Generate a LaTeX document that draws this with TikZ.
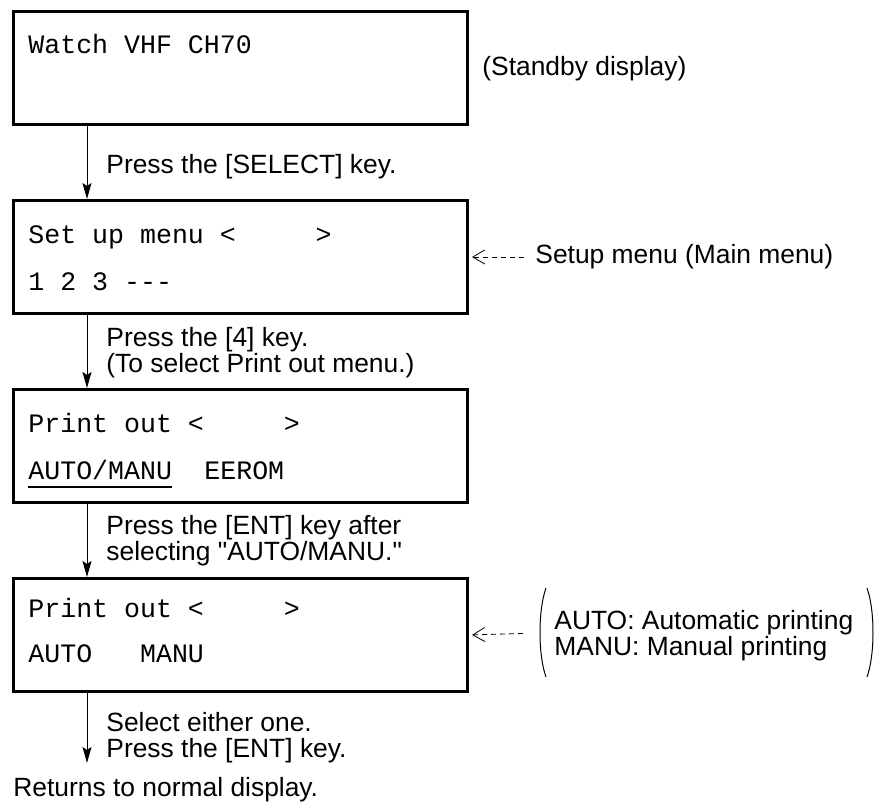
\documentclass[tikz,border=0pt]{standalone}
\usepackage{fontspec}
\setmainfont{Liberation Sans}
\setmonofont{Liberation Mono}
\usetikzlibrary{arrows.meta}

\begin{document}
\begin{tikzpicture}[x=0.5pt, y=-0.5pt]

    % rozměry displeje
    \def\W{227pt}
    \def\H{56.5pt}

    % styly
    \tikzset{
        lcd/.style={draw=black, line width=1.5pt, minimum width=\W, minimum height=\H, inner sep=0pt, anchor=north west},
        lcdtext/.style={font=\ttfamily\fontsize{13.3}{13.3}\selectfont, inner sep=0pt, anchor=base west},
        note/.style={font=\fontsize{13.2}{13}\selectfont, inner sep=0pt, anchor=base west, align=left},
        flow/.style={line width=0.5pt, -{Stealth[length=8pt, width=4.5pt, inset=1.5pt]}},
        pointer/.style={line width=0.4pt, dash pattern=on 2.5pt off 2pt, -{Straight Barb[length=6pt, width=7pt]}, shorten >=1.5pt},
        paren/.style={line width=0.5pt}
    }

    \useasboundingbox (0,0) rectangle (880,805);

    % displeje
    \node[lcd] (disp1) at (12,10) {};
    \node[lcd] (disp2) at (12,199) {};
    \node[lcd] (disp3) at (12,388) {};
    \node[lcd] (disp4) at (12,577) {};

    % texty na displejích
    \node[lcdtext] (watch) at (28,53) {Watch VHF CH70};
    \node[lcdtext] (setupLine) at (28,243) {Set up menu <~~~~~>};
    \node[lcdtext] (numLine) at (28,290) {1 2 3 {-}{-}{-}};
    \node[lcdtext] (printLine1) at (28,432) {Print out <~~~~~>};
    \node[lcdtext] (autoManu) at (28,479) {AUTO/MANU};
    \node[lcdtext] (eerom) at (204,479) {EEROM};
    \draw[line width=0.8pt] ([yshift=-4pt]autoManu.base west) -- ([yshift=-4pt]autoManu.base east);
    \node[lcdtext] (printLine2) at (28,617) {Print out <~~~~~>};
    \node[lcdtext] (autoLine) at (28,662) {AUTO~~~MANU};

    % popisky (u víceřádkových je base na posledním řádku)
    \node[note] (standbyNote) at (482,75) {(Standby display)};
    \node[note] (selectNote) at (106,173) {Press the [SELECT] key.};
    \node[note] (menuNote) at (535,263) {Setup menu (Main menu)};
    \node[note] (key4Note) at (106,372) {Press the [4] key.\\(To select Print out menu.)};
    \node[note] (entNote) at (106,560) {Press the [ENT] key after\\selecting \textquotedbl AUTO/MANU.\textquotedbl};
    \node[note] (printNote) at (554,655) {AUTO: Automatic printing\\MANU: Manual printing};
    \node[note] (selNote) at (106,757) {Select either one.\\Press the [ENT] key.};
    \node[note] (retNote) at (13,796) {Returns to normal display.};

    % šipky mezi displeji
    \draw[flow] ([xshift=37.5pt]disp1.south west) -- ([xshift=37.5pt]disp2.north west);
    \draw[flow] ([xshift=37.5pt]disp2.south west) -- ([xshift=37.5pt]disp3.north west);
    \draw[flow] ([xshift=37.5pt]disp3.south west) -- ([xshift=37.5pt]disp4.north west);
    \coordinate (retTop) at (87,763);
    \draw[flow] ([xshift=37.5pt]disp4.south west) -- (retTop);

    % čárkované ukazatele
    \draw[pointer, shorten <=5.5pt] (menuNote.west |- disp2.east) -- (disp2.east);
    \coordinate (lparen) at (540,633);
    \draw[pointer, shorten <=8.5pt] (lparen) -- (disp4.east);

    % závorky
    \draw[paren] (546,588) .. controls (538,610) and (538,655) .. (546,677);
    \draw[paren] (867,588) .. controls (875,610) and (875,655) .. (867,677);

\end{tikzpicture}
\end{document}
